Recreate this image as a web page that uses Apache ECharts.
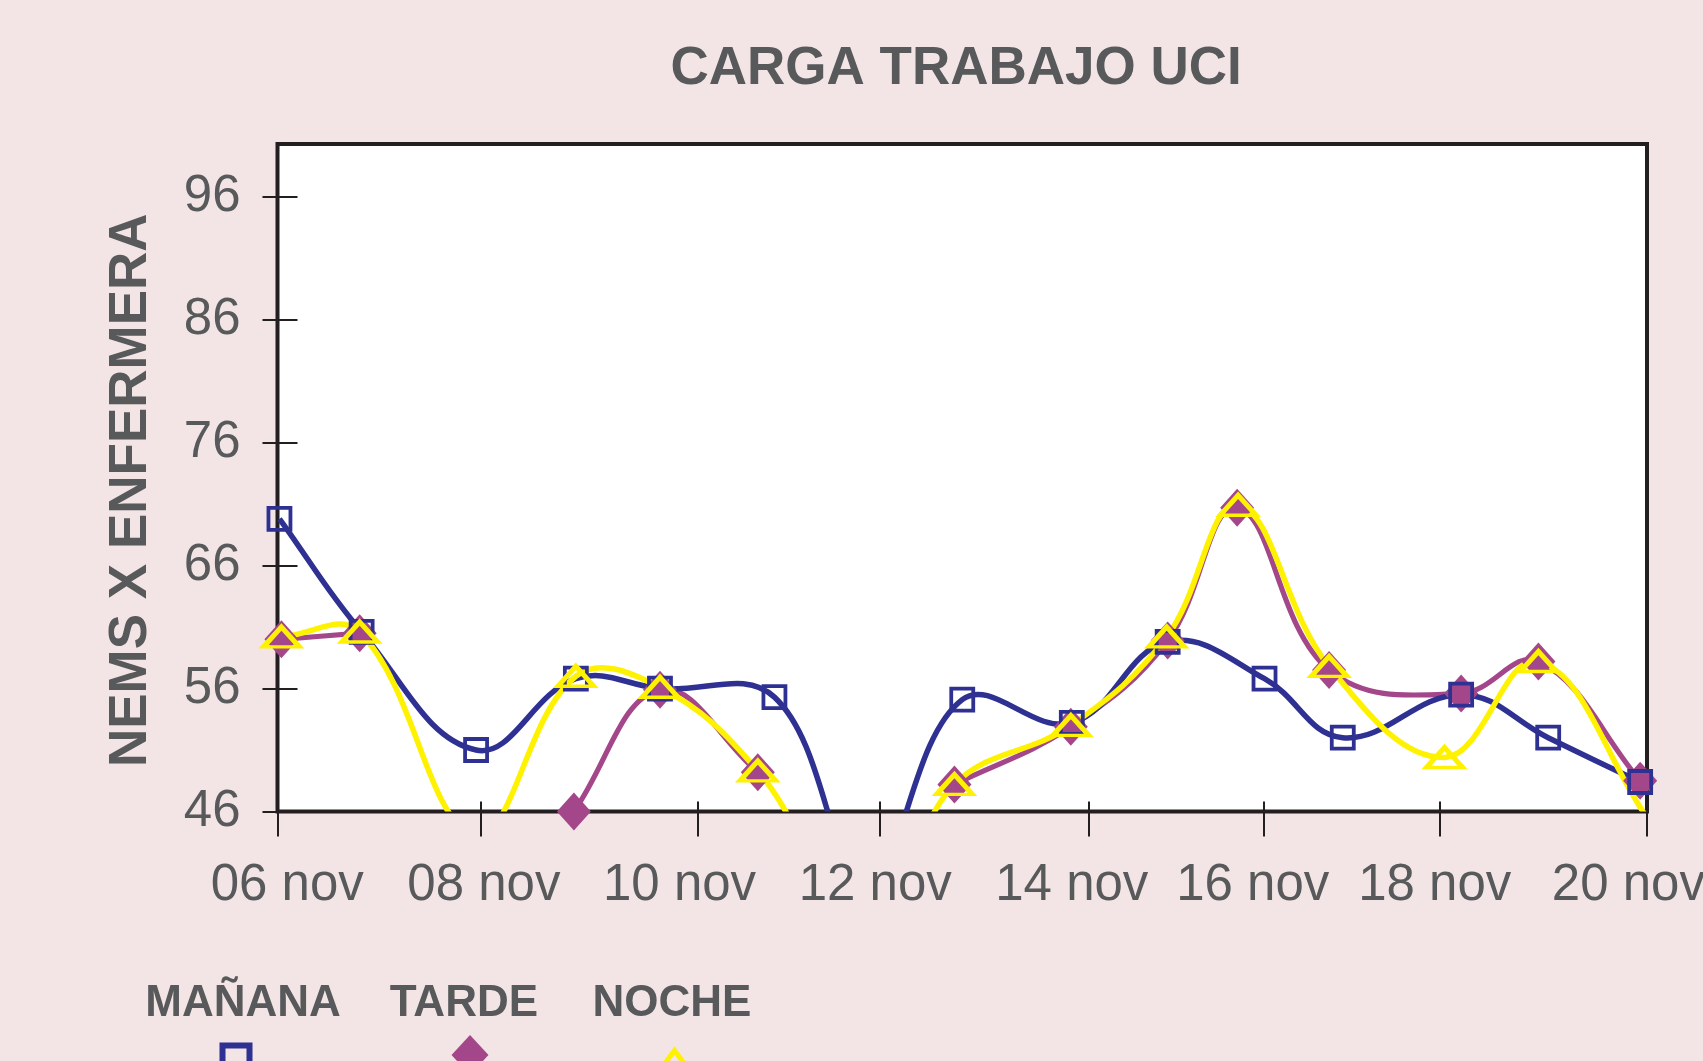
<!DOCTYPE html>
<html>
<head>
<meta charset="utf-8">
<script src="https://cdn.jsdelivr.net/npm/echarts@6/dist/echarts.min.js"></script>
<style>
html,body{margin:0;padding:0;background:#f3e5e5;}
#c{width:1703px;height:1061px;}
</style>
</head>
<body>
<div id="c"></div>
<script>
// ---- data (x = position in days after 06 nov, as drawn) ----
const titleText = 'CARGA TRABAJO UCI';
const yAxisName = 'NEMS X ENFERMERA';
const seriesNames = ['MAÑANA', 'TARDE', 'NOCHE'];
const xTickPos = [0, 2.08, 4.30, 6.16, 8.29, 10.08, 11.88, 14];
const xLabelPos = [0.10, 2.11, 4.11, 6.11, 8.12, 9.97, 11.83, 13.81];
const xLabels = ['06 nov', '08 nov', '10 nov', '12 nov', '14 nov', '16 nov', '18 nov', '20 nov'];
const yTicks = [46, 56, 66, 76, 86, 96];

const xManana = [0.02, 0.86, 2.03, 3.05, 3.91, 5.08, 6.02, 7.00, 8.12, 9.10, 10.09, 10.89, 12.10, 12.99, 13.93];
const manana  = [69.8, 60.6, 51.0, 56.8, 56.0, 55.3, 40.5, 55.1, 53.2, 59.8, 56.8, 52.0, 55.5, 52.0, 48.4];

const xTarde = [0.04, 0.84, 2.03, 3.03, 3.91, 4.91, 6.02, 6.92, 8.11, 9.10, 9.81, 10.75, 12.10, 12.89, 13.93];
const tarde  = [60.0, 60.5, null, 46.0, 55.9, 49.2, null, 48.2, 52.9, 59.9, 70.7, 57.5, 55.6, 58.2, 48.5];

const xNoche = [0.04, 0.84, 2.02, 3.05, 3.91, 4.91, 6.04, 6.92, 8.11, 9.09, 9.82, 10.75, 11.93, 12.89, 14.0];
const noche  = [60.2, 60.6, 44.2, 57.0, 56.1, 49.3, 36.5, 48.2, 53.0, 60.2, 70.9, 57.8, 50.4, 58.2, 45.5];

// ---- style ----
const GRAY = '#58595b';
const NAVY = '#2e3192';
const MAG = '#a4478a';
const YEL = '#fff200';
const INK = '#231f20';
const FONT = 'Liberation Sans, Arial, Helvetica, sans-serif';

function pairs(xs, ys) { return xs.map((x, i) => [x, ys[i]]); }
function labelFor(v) {
  let best = 0, d = Infinity;
  xLabelPos.forEach((p, i) => { const dd = Math.abs(p - v); if (dd < d) { d = dd; best = i; } });
  return xLabels[best];
}

// smoothed path through points (already mapped to pixels with api.coord);
// control arms follow the neighbour direction, scaled by the adjacent segment lengths
function smoothPath(p, s) {
  const n = p.length;
  const cpIn = [], cpOut = [];
  for (let i = 0; i < n; i++) {
    const a = p[i - 1] || p[i], b = p[i], c = p[i + 1] || p[i];
    const vx = c[0] - a[0], vy = c[1] - a[1];
    const d0 = Math.hypot(b[0] - a[0], b[1] - a[1]);
    const d1 = Math.hypot(c[0] - b[0], c[1] - b[1]);
    const sum = d0 + d1 || 1;
    cpIn[i] = [b[0] - vx * s * d0 / sum, b[1] - vy * s * d0 / sum];
    cpOut[i] = [b[0] + vx * s * d1 / sum, b[1] + vy * s * d1 / sum];
  }
  let d = 'M' + p[0][0] + ' ' + p[0][1];
  for (let i = 0; i < n - 1; i++) {
    d += ' C' + cpOut[i][0] + ' ' + cpOut[i][1] + ' ' + cpIn[i + 1][0] + ' ' + cpIn[i + 1][1] + ' ' + p[i + 1][0] + ' ' + p[i + 1][1];
  }
  return d;
}
function curveSeries(xs, ys, color, width) {
  return {
    type: 'custom', clip: true, silent: true, animation: false,
    data: pairs(xs, ys),
    renderItem: function (params, api) {
      if (params.dataIndex !== 0) return null;
      const runs = []; let cur = [];
      xs.forEach((x, i) => {
        if (ys[i] == null) { if (cur.length) runs.push(cur); cur = []; }
        else cur.push(api.coord([x, ys[i]]));
      });
      if (cur.length) runs.push(cur);
      return {
        type: 'group',
        children: runs.filter(r => r.length > 1).map(r => ({
          type: 'path', shape: {pathData: smoothPath(r, 0.4)},
          style: {fill: null, stroke: color, lineWidth: width, lineJoin: 'round', lineCap: 'butt'}
        }))
      };
    }
  };
}
function markerSeries(name, xs, ys, symbol, size, itemStyle) {
  return {
    name: name, type: 'line', data: pairs(xs, ys), connectNulls: false,
    symbol: symbol, symbolSize: size, showSymbol: true,
    itemStyle: itemStyle, lineStyle: {width: 0, opacity: 0}
  };
}

function iconLegend(name, icon, cx, cy, iw, ih, itemStyle) {
  return {
    data: [name], icon: icon, left: cx - iw / 2, top: cy - ih / 2, padding: 0,
    itemWidth: iw, itemHeight: ih, symbolKeepAspect: false, selectedMode: false,
    itemStyle: itemStyle, formatter: function () { return ''; },
    textStyle: {fontSize: 8, lineHeight: 8}
  };
}
function textLegend(name, textCx, textCy, textW) {
  return {
    data: [name], icon: 'none', left: textCx - textW / 2 - 5, top: textCy - 22, padding: 0,
    itemWidth: 0, itemHeight: 44, selectedMode: false,
    textStyle: {fontFamily: FONT, fontSize: 44, fontWeight: 'bold', color: GRAY, lineHeight: 44}
  };
}

const chart = echarts.init(document.getElementById('c'), null, {renderer: 'canvas'});

const option = {
  animation: false,
  backgroundColor: '#f3e5e5',
  textStyle: {fontFamily: FONT},
  title: {
    text: titleText, left: 670.5, top: 42.5, padding: 0,
    textStyle: {fontFamily: FONT, fontSize: 53, fontWeight: 'bold', color: GRAY, lineHeight: 53}
  },
  legend: [
    textLegend(seriesNames[0], 243, 1003.5, 195.5),
    textLegend(seriesNames[1], 465.5, 1003.5, 151.5),
    textLegend(seriesNames[2], 672, 1003.5, 158.9),
    iconLegend(seriesNames[0], 'rect', 233, 1056, 27, 27, {color: 'rgba(0,0,0,0)', borderColor: NAVY, borderWidth: 6}),
    iconLegend(seriesNames[1], 'diamond', 470, 1055, 37, 40, {color: MAG, borderWidth: 0}),
    iconLegend(seriesNames[2], 'triangle', 672, 1058, 30, 20, {color: 'rgba(0,0,0,0)', borderColor: YEL, borderWidth: 5})
  ],
  grid: {
    left: 277.5, right: 56, top: 144, bottom: 249.5,
    show: true, backgroundColor: '#ffffff', borderColor: INK, borderWidth: 4,
    containLabel: false, outerBoundsMode: 'none'
  },
  xAxis: [
    {
      type: 'value', min: 0, max: 14, position: 'bottom',
      axisLine: {show: false}, splitLine: {show: false},
      axisTick: {show: true, inside: false, length: 25, customValues: xTickPos, lineStyle: {color: INK, width: 2}},
      axisLabel: {show: true, customValues: xLabelPos, formatter: labelFor, margin: 49,
        fontFamily: FONT, fontSize: 51, color: GRAY, lineHeight: 51}
    },
    {
      type: 'value', min: 0, max: 14, position: 'bottom',
      axisLine: {show: false}, splitLine: {show: false}, axisLabel: {show: false},
      axisTick: {show: true, inside: true, length: 10, customValues: xTickPos, lineStyle: {color: INK, width: 2}}
    }
  ],
  yAxis: [
    {
      type: 'value', min: 46, max: 100.28, position: 'left',
      axisLine: {show: false}, splitLine: {show: false},
      axisTick: {show: true, inside: false, length: 15, customValues: yTicks, lineStyle: {color: INK, width: 2}},
      axisLabel: {show: true, customValues: yTicks, margin: 37, fontFamily: FONT, fontSize: 51, color: GRAY, lineHeight: 51},
      name: yAxisName, nameLocation: 'middle', nameGap: 120,
      nameTextStyle: {fontFamily: FONT, fontSize: 53, fontWeight: 'bold', color: GRAY, lineHeight: 53, padding: [0, 25, 0, 0]}
    },
    {
      type: 'value', min: 46, max: 100.28, position: 'left',
      axisLine: {show: false}, splitLine: {show: false}, axisLabel: {show: false},
      axisTick: {show: true, inside: true, length: 20, customValues: yTicks, lineStyle: {color: INK, width: 2}}
    }
  ],
  series: [
    curveSeries(xTarde, tarde, MAG, 5.2),
    markerSeries(seriesNames[1], xTarde, tarde, 'diamond', [34, 38], {color: MAG}),
    curveSeries(xManana, manana, NAVY, 5.5),
    markerSeries(seriesNames[0], xManana, manana, 'rect', 22, {color: 'rgba(0,0,0,0)', borderColor: NAVY, borderWidth: 3.8}),
    curveSeries(xNoche, noche, YEL, 5.5),
    markerSeries(seriesNames[2], xNoche, noche, 'triangle', [36, 20], {color: 'rgba(0,0,0,0)', borderColor: YEL, borderWidth: 4.5})
  ]
};
chart.setOption(option);
</script>
</body>
</html>
